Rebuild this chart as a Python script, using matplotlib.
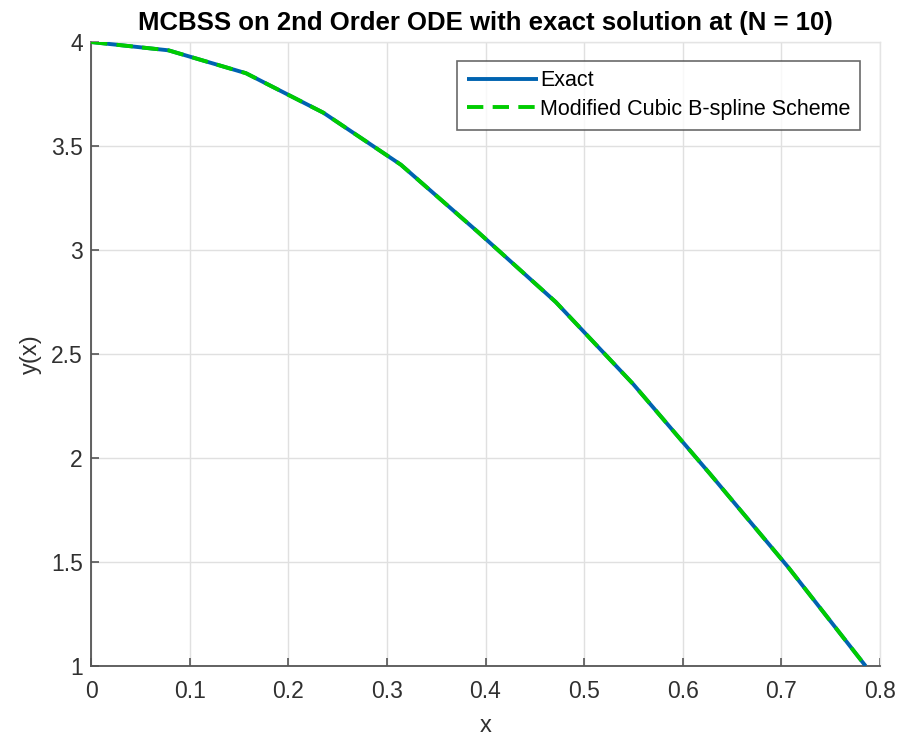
import numpy as np
import matplotlib
matplotlib.use("Agg")
import matplotlib.pyplot as plt

plt.rcParams['font.family'] = ['Liberation Sans', 'DejaVu Sans']

# Data: nodes x_i = i*pi/40, i = 0..10
x_vals = [0.0, 0.0785, 0.1571, 0.2356, 0.3142, 0.3927, 0.4712, 0.5498, 0.6283, 0.7069, 0.7854]
y_exact = [4.0, 3.96, 3.85, 3.66, 3.41, 3.085, 2.75, 2.355, 1.92, 1.475, 1.0]
y_mcbss = [4.0, 3.96, 3.85, 3.66, 3.41, 3.085, 2.75, 2.355, 1.92, 1.475, 1.0]

x_ticks = [0, 0.1, 0.2, 0.3, 0.4, 0.5, 0.6, 0.7, 0.8]
x_ticklabels = ['0', '0.1', '0.2', '0.3', '0.4', '0.5', '0.6', '0.7', '0.8']
y_ticks = [1, 1.5, 2, 2.5, 3, 3.5, 4]
y_ticklabels = ['1', '1.5', '2', '2.5', '3', '3.5', '4']

fig = plt.figure(figsize=(8.99, 7.41), dpi=100)
ax = fig.add_axes([91/899, 1-666/741, (880-91)/899, (666-42)/741])

ax.plot(x_vals, y_exact, color='#0063B0', lw=2.8, label='Exact', solid_capstyle='butt', zorder=3)
ax.plot(x_vals, y_mcbss, color='#00CC00', lw=2.8, ls=(0, (4.2, 2.4)), label='Modified Cubic B-spline Scheme', zorder=4)

ax.set_xlim(0, 0.8)
ax.set_ylim(1, 4)
ax.set_xticks(x_ticks)
ax.set_xticklabels(x_ticklabels)
ax.set_yticks(y_ticks)
ax.set_yticklabels(y_ticklabels)

ax.grid(True, color='#e0e0e0', lw=1.0)
ax.set_axisbelow(True)
for s in ['top', 'right']:
    ax.spines[s].set_color('#e4e4e4')
    ax.spines[s].set_linewidth(1.0)
for s in ['left', 'bottom']:
    ax.spines[s].set_color('#555555')
    ax.spines[s].set_linewidth(1.3)

ax.tick_params(direction='in', length=6, width=1.2, color='#555555', labelsize=16.5,
               labelcolor='#303030', pad=6, top=False, right=False)
ax.tick_params(axis='x', pad=10)

ax.set_xlabel('x', fontsize=17, color='#303030', labelpad=9)
ax.set_ylabel('y(x)', fontsize=17, color='#303030', labelpad=6)
ax.set_title('MCBSS on 2nd Order ODE with exact solution at (N = 10)', fontsize=18.5,
             fontweight='bold', pad=9)

leg = ax.legend(loc='upper right', bbox_to_anchor=(0.975, 0.97), fontsize=15.5, frameon=True,
                fancybox=False, edgecolor='#444444', handlelength=3.3, handletextpad=0.1,
                borderpad=0.45, labelspacing=0.35, borderaxespad=0.0)
leg.get_frame().set_linewidth(1.2)

fig.savefig('out.png', dpi=100, facecolor='white')
